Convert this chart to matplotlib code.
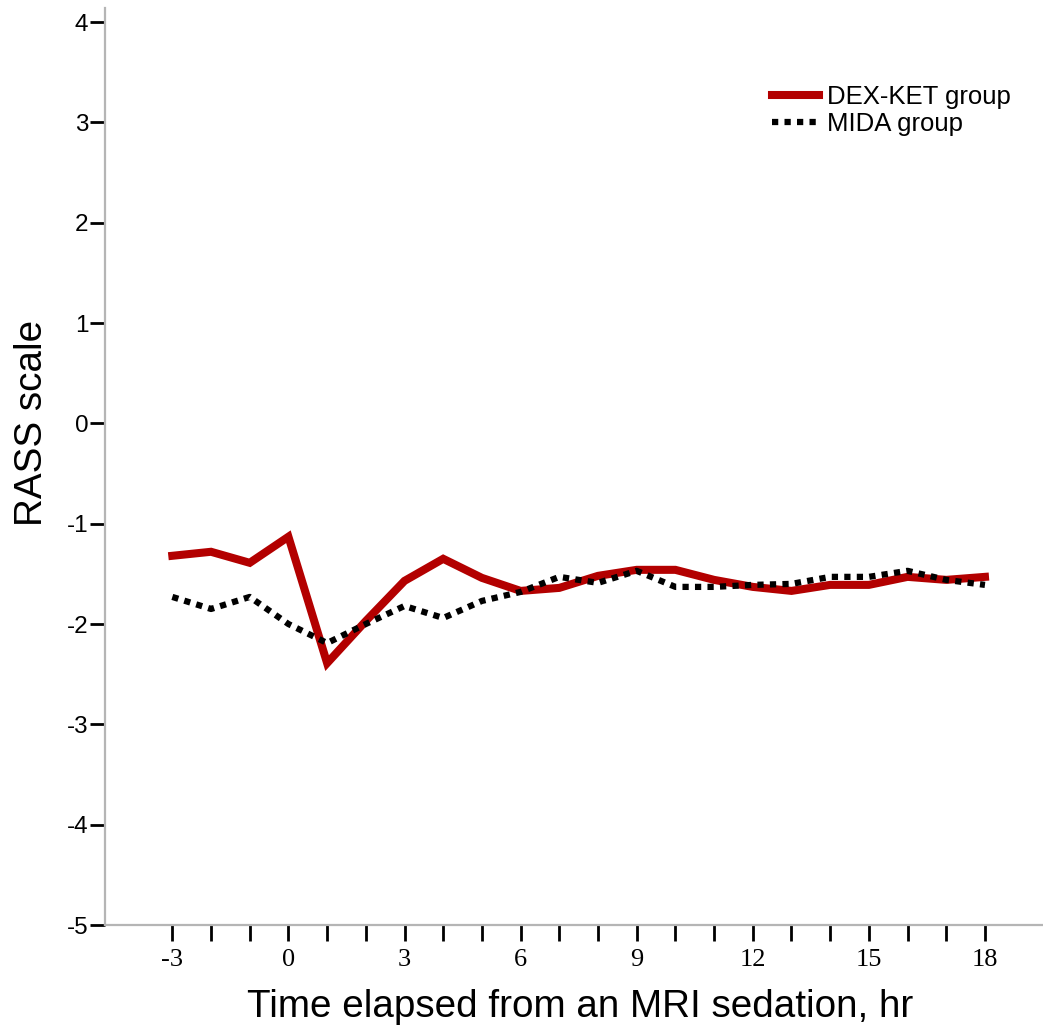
import matplotlib
matplotlib.use("Agg")
import matplotlib.pyplot as plt
from matplotlib.ticker import FixedLocator

plt.rcParams["axes.unicode_minus"] = False

hours = [-3, -2, -1, 0, 1, 2, 3, 4, 5, 6, 7, 8, 9, 10, 11, 12, 13, 14, 15, 16, 17, 18]
dex_ket = [-1.32, -1.28, -1.39, -1.13, -2.39, -1.97, -1.57, -1.35, -1.54, -1.67, -1.64, -1.52,
           -1.46, -1.46, -1.56, -1.63, -1.67, -1.61, -1.61, -1.53, -1.56, -1.53]
mida = [-1.73, -1.85, -1.73, -2.00, -2.19, -2.00, -1.82, -1.94, -1.77, -1.68, -1.53, -1.59,
        -1.47, -1.63, -1.63, -1.61, -1.60, -1.53, -1.53, -1.47, -1.56, -1.61]
x_ticks = [-3, 0, 3, 6, 9, 12, 15, 18]
y_ticks = [-5, -4, -3, -2, -1, 0, 1, 2, 3, 4]

W, H = 1043, 1031
fig = plt.figure(figsize=(W / 100, H / 100), dpi=100)
ax = fig.add_axes([105 / W, 1 - 925 / H, 1 - 105 / W, (925 - 8) / H])

ax.plot(hours, dex_ket, color="#b30000", lw=5.8, solid_joinstyle="miter", label="DEX-KET group", zorder=2)
ax.plot(hours, mida, color="black", lw=4.5, linestyle=(0, (1, 1.0)), dash_capstyle="butt",
        label="MIDA group", zorder=3)

ax.set_xlim(-4.74, 19.5)
ax.set_ylim(-5, 4.14)

for s in ["top", "right"]:
    ax.spines[s].set_visible(False)
for s in ["left", "bottom"]:
    ax.spines[s].set_color("#b5b5b5")
    ax.spines[s].set_linewidth(1.6)

ax.set_xticks(x_ticks)
ax.xaxis.set_minor_locator(FixedLocator([h for h in hours if h not in x_ticks]))
ax.set_yticks(y_ticks)
ax.tick_params(axis="x", which="both", direction="out", length=11.5, width=2, color="black", pad=6)
ax.tick_params(axis="y", direction="out", length=11, width=2, color="black", pad=1)
for lab in ax.get_xticklabels():
    lab.set_fontfamily("Liberation Serif")
    lab.set_fontsize(19)
for lab in ax.get_yticklabels():
    lab.set_fontfamily("Liberation Sans")
    lab.set_fontsize(17.5)

ax.set_xlabel("Time elapsed from an MRI sedation, hr", fontfamily="Liberation Sans", fontsize=27.8)
ax.set_ylabel("RASS scale", fontfamily="Liberation Sans", fontsize=27.8)
ax.xaxis.set_label_coords(0.507, -0.089)
ax.yaxis.set_label_coords(-0.078, 0.548)
ax.xaxis.label.set_verticalalignment("center")
ax.yaxis.label.set_verticalalignment("center")

leg = ax.legend(loc="upper left", bbox_to_anchor=(0.7, 0.927), frameon=False,
                prop={"family": "Liberation Sans", "size": 18.5}, handlelength=1.85,
                handletextpad=0.3, labelspacing=0.1, borderaxespad=0)

fig.savefig("out.png", dpi=100, facecolor="white")
